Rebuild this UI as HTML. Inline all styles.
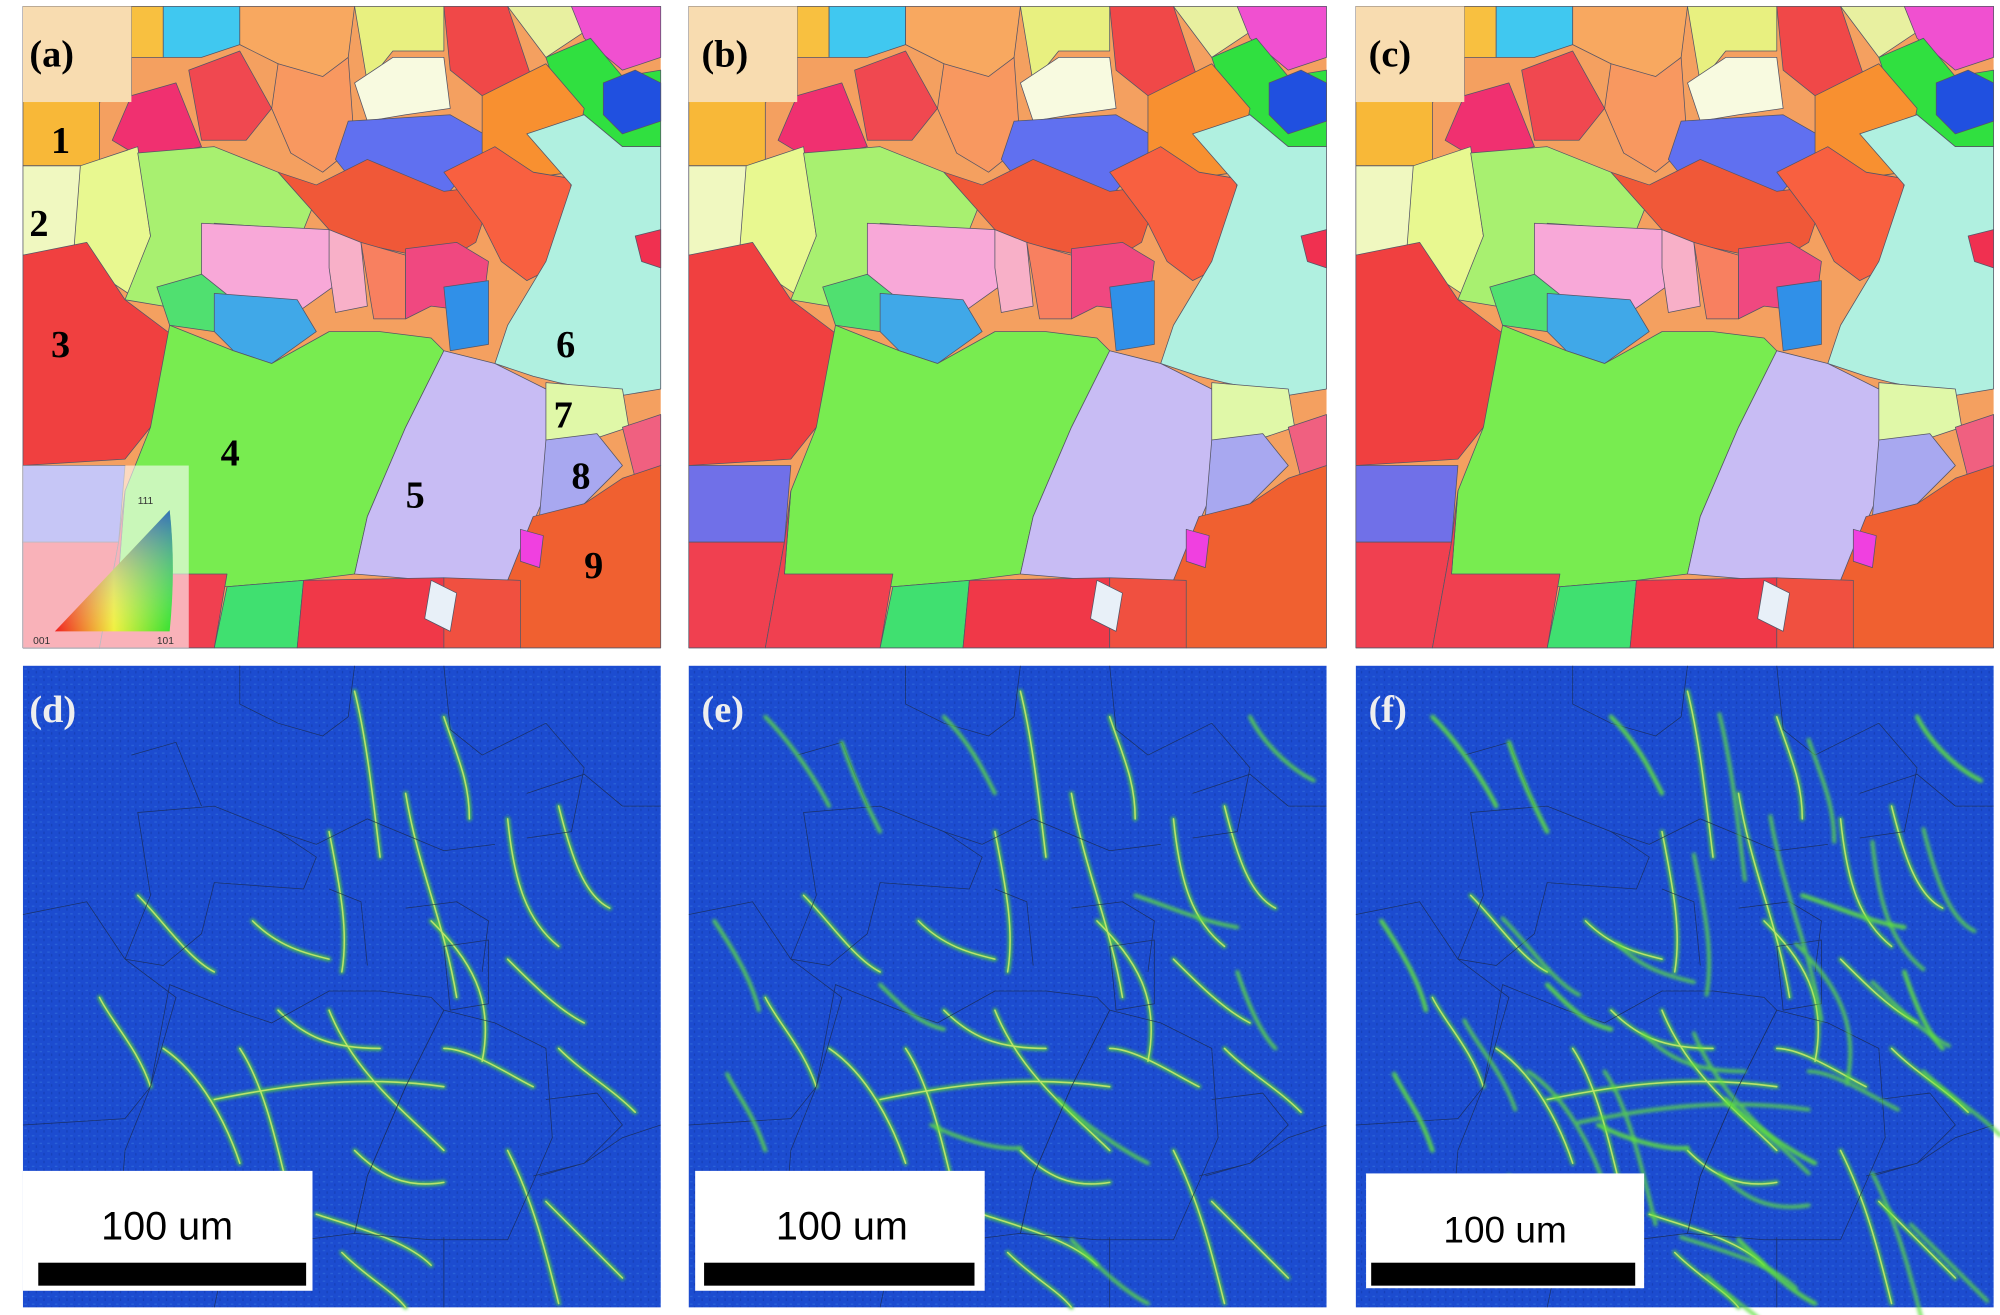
<!DOCTYPE html>
<html><head><meta charset="utf-8"><style>
html,body{margin:0;padding:0;background:#fff;width:2000px;height:1315px;overflow:hidden}
svg{display:block}
</style></head><body>
<svg width="2000" height="1315" viewBox="0 0 1568 1031" preserveAspectRatio="none" xmlns="http://www.w3.org/2000/svg">
<defs>
<filter id="bl2"><feGaussianBlur stdDeviation="1.2"/></filter>
<linearGradient id="tri" x1="0" y1="1" x2="1" y2="1"><stop offset="0" stop-color="#f02020"/><stop offset="0.5" stop-color="#f0f040"/><stop offset="1" stop-color="#30e030"/></linearGradient>
<linearGradient id="tri2" x1="0" y1="0" x2="0" y2="1"><stop offset="0" stop-color="#3040f0" stop-opacity="1"/><stop offset="1" stop-color="#fff" stop-opacity="0"/></linearGradient>
<g id="grains" stroke="#556" stroke-width="0.6" stroke-linejoin="round">
<rect x="0" y="0" width="500" height="503" fill="#f4a060" stroke="none"/>
<path d="M60 0H110V40H85V70L60 75Z" fill="#f8c040"/>
<path d="M110 0H170V30L140 40L110 40Z" fill="#40c8f0"/>
<path d="M170 0H260L255 40L230 60L200 45L170 30Z" fill="#f8a860"/>
<path d="M260 0H330L330 35L290 35L270 60Z" fill="#e8f080"/>
<path d="M330 0H380L400 60L360 70L335 50Z" fill="#f04848"/>
<path d="M380 0H430L440 20L410 40Z" fill="#e8f0a0"/>
<path d="M430 0H500V40L470 50L440 25Z" fill="#f050d0"/>
<path d="M410 40L445 25L470 55L500 50V110L470 110L440 85L420 70Z" fill="#30e040"/>
<path d="M455 60L480 50L500 60V90L470 100L455 85Z" fill="#2050e0"/>
<path d="M85 70L120 60L140 110L95 120L70 105Z" fill="#f03070"/>
<path d="M130 50L170 35L195 80L175 105L140 105Z" fill="#f04850"/>
<path d="M200 45L235 55L255 40L260 110L235 130L210 115L195 80Z" fill="#f89860"/>
<path d="M260 60L290 40L330 40L335 80L300 85L270 90Z" fill="#f8fae0"/>
<path d="M255 90L335 85L370 105L330 150L265 145L245 120Z" fill="#6070f0"/>
<path d="M360 70L410 45L440 80L430 130L395 135L360 115Z" fill="#f89030"/>
<path d="M0 0H85V70H60V125H0Z" fill="#f8b838"/>
<path d="M0 125H45L55 150L50 190L0 195Z" fill="#f0f8c0"/>
<path d="M45 125L90 110L100 180L90 230L60 210L40 190Z" fill="#e8f890"/>
<path d="M90 115L150 110L200 130L230 150L220 175L150 170L140 210L110 235L80 230L100 180Z" fill="#a8f070"/>
<path d="M0 195L50 185L80 230L120 260L100 330L80 355L0 360Z" fill="#f04040"/>
<path d="M140 170L240 175L250 215L215 240L160 230L140 210Z" fill="#f8a8d8"/>
<path d="M200 130L230 140L270 120L330 145L370 140L355 185L330 200L260 185L240 175Z" fill="#f05838"/>
<path d="M240 175L265 185L270 235L245 240L240 205Z" fill="#f8b0c8"/>
<path d="M265 185L300 195L300 245L275 245Z" fill="#f88060"/>
<path d="M300 190L340 185L365 200L360 240L320 235L300 245Z" fill="#f04880"/>
<path d="M330 130L370 110L400 130L430 135L425 200L395 215L375 200L360 170Z" fill="#f86040"/>
<path d="M330 220L365 215L365 265L335 270Z" fill="#3090e8"/>
<path d="M395 100L440 85L470 110L500 110V300L470 305L420 295L400 290L370 280L380 250L410 200L430 140Z" fill="#b0f0e0"/>
<path d="M105 220L140 210L165 230L150 255L115 250Z" fill="#50e070"/>
<path d="M150 225L215 230L230 255L195 280L165 270L150 255Z" fill="#40a8e8"/>
<path d="M115 250L165 270L195 280L240 255L280 255L320 260L330 270L300 330L270 400L260 445L220 450L160 455L75 445L80 380L100 330Z" fill="#78ec50"/>
<path d="M330 270L370 280L410 300L415 370L400 405L380 450L320 450L260 445L270 400L300 330Z" fill="#c8bcf4"/>
<path d="M410 295L470 300L475 330L445 340L410 340Z" fill="#e0f8a8"/>
<path d="M410 340L450 335L470 360L440 390L405 400Z" fill="#a8a8f0"/>
<path d="M470 330L500 320V360L480 370Z" fill="#f06080"/>
<path d="M400 400L440 390L470 370L500 360V503H390L380 450Z" fill="#f06030"/>
<path d="M0 360H80L75 420L0 420Z" fill="#7070e8"/>
<path d="M0 420H75L60 503H0Z" fill="#f04050"/>
<path d="M75 420L80 380L75 445H160L150 503H60Z" fill="#f04050"/>
<path d="M160 455L220 450L215 503H150Z" fill="#40e070"/>
<path d="M220 450L330 448L330 503H215Z" fill="#f03848"/>
<path d="M330 448L390 450L390 503H330Z" fill="#f05040"/>
<path d="M320 450L340 460L335 490L315 480Z" fill="#e8f0f8"/>
<path d="M390 410L408 415L405 440L390 435Z" fill="#f040e0"/>
<path d="M480 180L500 175V205L485 200Z" fill="#f03050"/>
</g>
<pattern id="spk" width="6" height="6" patternUnits="userSpaceOnUse"><rect width="6" height="6" fill="#1c4cd0"/><rect x="1" y="2" width="2" height="1" fill="#2a62d8"/><rect x="4" y="4" width="1" height="2" fill="#1640b8"/></pattern>
<g id="streaks">
<path d="M170 300C190 330 200 380 210 420"/><path d="M240 270C260 320 300 350 330 380"/>
<path d="M300 100C310 160 330 200 340 260"/><path d="M380 230C400 250 420 270 440 280"/>
<path d="M150 340C200 330 260 320 330 330"/><path d="M230 430C260 440 300 450 320 470"/>
<path d="M380 380C400 420 410 460 420 500"/><path d="M260 20C270 60 275 110 280 150"/>
<path d="M110 300C140 320 160 360 170 390"/><path d="M320 200C350 230 370 260 360 310"/>
<path d="M420 110C430 150 440 180 460 190"/><path d="M250 460C270 480 290 490 300 503"/>
<path d="M200 270C220 290 240 300 280 300"/><path d="M330 300C350 300 380 320 400 330"/>
<path d="M90 180C110 200 130 230 150 240"/><path d="M240 130C250 180 255 210 250 240"/>
<path d="M380 120C385 170 395 200 420 220"/><path d="M180 200C200 220 220 225 240 230"/>
<path d="M260 380C280 400 300 410 330 405"/><path d="M120 400C130 420 150 440 170 450"/>
<path d="M420 300C440 320 460 330 480 350"/><path d="M330 40C340 70 350 90 350 120"/>
<path d="M60 260C70 280 90 300 100 330"/><path d="M410 420C430 440 450 460 470 480"/>
</g>
<g id="bounds" fill="none" stroke="#1a2a50" stroke-width="0.6" opacity="0.8">
<path d="M90 115L150 110L200 130L230 150L220 175L150 170L140 210L110 235L80 230L100 180Z"/>
<path d="M115 250L165 270L195 280L240 255L280 255L320 260L330 270L300 330L270 400L260 445L220 450L160 455L75 445L80 380L100 330Z"/>
<path d="M330 270L370 280L410 300L415 370L400 405L380 450L320 450L260 445L270 400L300 330Z"/>
<path d="M0 195L50 185L80 230L120 260L100 330L80 355L0 360"/>
<path d="M395 100L440 85L470 110L500 110M200 130L230 140L270 120L330 145L370 140"/>
<path d="M85 70L120 60L140 110M170 0L170 30L200 45L235 55L255 40L260 0M330 0L335 50L360 70L410 45L440 80L430 130L395 135"/>
<path d="M240 175L265 185L270 235M300 190L340 185L365 200L360 240M330 220L365 215L365 265L335 270Z"/>
<path d="M410 340L450 335L470 360L440 390L405 400M400 400L440 390L470 370L500 360M160 455L150 503M330 448L330 503"/>
</g>
<g id="noiseD">
<rect x="0" y="0" width="500" height="503" fill="url(#spk)"/>
<g fill="none" stroke="#58d838" stroke-width="3.5" stroke-linecap="round" filter="url(#bl2)" opacity="0.85"><use href="#streaks"/></g>
<g fill="none" stroke="#d8f070" stroke-width="1.2" stroke-linecap="round" opacity="0.8"><use href="#streaks"/></g>
<use href="#bounds"/>
</g>
<g id="extra">
<path d="M60 40C80 60 100 90 110 110"/><path d="M200 40C220 60 230 80 240 100"/>
<path d="M440 40C450 60 470 80 490 90"/><path d="M30 320C40 340 50 350 60 380"/>
<path d="M290 340C310 360 340 380 360 390"/><path d="M190 360C210 370 240 380 260 378"/>
<path d="M350 180C380 190 400 200 430 205"/><path d="M150 250C170 270 180 280 200 285"/>
<path d="M430 240C440 270 450 290 460 300"/><path d="M20 200C40 230 50 250 55 270"/>
<path d="M120 60C130 90 140 110 150 130"/><path d="M300 450C320 470 340 490 360 500"/>
</g>
</defs>

<!-- top row -->
<g transform="translate(18,5)"><use href="#grains"/>
<rect x="0" y="0" width="85" height="75" fill="#f8dcb0"/>
<rect x="0" y="360" width="130" height="143" fill="#fff" opacity="0.6"/>
<path d="M25 490L115 490Q120 440 115 395Z" fill="url(#tri)"/>
<path d="M25 490L115 490Q120 440 115 395Z" fill="url(#tri2)" opacity="0.7"/>
<text x="90" y="390" font-family="Liberation Sans,sans-serif" font-size="8" fill="#333">111</text>
<text x="8" y="500" font-family="Liberation Sans,sans-serif" font-size="8" fill="#333">001</text>
<text x="105" y="500" font-family="Liberation Sans,sans-serif" font-size="8" fill="#333">101</text>
<g font-family="Liberation Serif,serif" font-weight="bold" font-size="30" fill="#000">
<text x="5" y="47">(a)</text>
<text x="22" y="115">1</text><text x="5" y="180">2</text><text x="22" y="275">3</text>
<text x="155" y="360">4</text><text x="300" y="393">5</text><text x="418" y="275">6</text>
<text x="416" y="330">7</text><text x="430" y="378">8</text><text x="440" y="448">9</text>
</g></g>
<g transform="translate(540,5)"><use href="#grains"/><rect x="0" y="0" width="85" height="75" fill="#f8dcb0"/>
<text x="10" y="47" font-family="Liberation Serif,serif" font-weight="bold" font-size="30">(b)</text></g>
<g transform="translate(1063,5)"><use href="#grains"/><rect x="0" y="0" width="85" height="75" fill="#f8dcb0"/>
<text x="10" y="47" font-family="Liberation Serif,serif" font-weight="bold" font-size="30">(c)</text></g>

<!-- bottom row -->
<g transform="translate(18,522)"><use href="#noiseD"/>
<text x="5" y="44" font-family="Liberation Serif,serif" font-weight="bold" font-size="30" fill="#eee">(d)</text>
<rect x="0" y="396" width="227" height="94" fill="#fff"/>
<text x="113" y="450" text-anchor="middle" font-family="Liberation Sans,sans-serif" font-size="31">100 um</text>
<rect x="12" y="468" width="210" height="18" fill="#000"/></g>
<g transform="translate(540,522)"><use href="#noiseD"/>
<g fill="none" stroke="#60e040" stroke-width="3" stroke-linecap="round" filter="url(#bl2)" opacity="0.85"><use href="#extra"/></g>
<text x="10" y="44" font-family="Liberation Serif,serif" font-weight="bold" font-size="30" fill="#eee">(e)</text>
<rect x="5" y="396" width="227" height="94" fill="#fff"/>
<text x="120" y="450" text-anchor="middle" font-family="Liberation Sans,sans-serif" font-size="31">100 um</text>
<rect x="12" y="468" width="212" height="18" fill="#000"/></g>
<g transform="translate(1063,522)"><use href="#noiseD"/>
<g fill="none" stroke="#60e040" stroke-width="3.5" stroke-linecap="round" filter="url(#bl2)" opacity="0.9"><use href="#extra"/></g>
<g fill="none" stroke="#60e040" stroke-width="3" stroke-linecap="round" filter="url(#bl2)" opacity="0.8" transform="translate(25,18)"><use href="#streaks"/></g>
<text x="10" y="44" font-family="Liberation Serif,serif" font-weight="bold" font-size="30" fill="#eee">(f)</text>
<rect x="8" y="398" width="218" height="90" fill="#fff"/>
<text x="117" y="452" text-anchor="middle" font-family="Liberation Sans,sans-serif" font-size="29">100 um</text>
<rect x="12" y="468" width="207" height="18" fill="#000"/></g>
</svg>
</body></html>
